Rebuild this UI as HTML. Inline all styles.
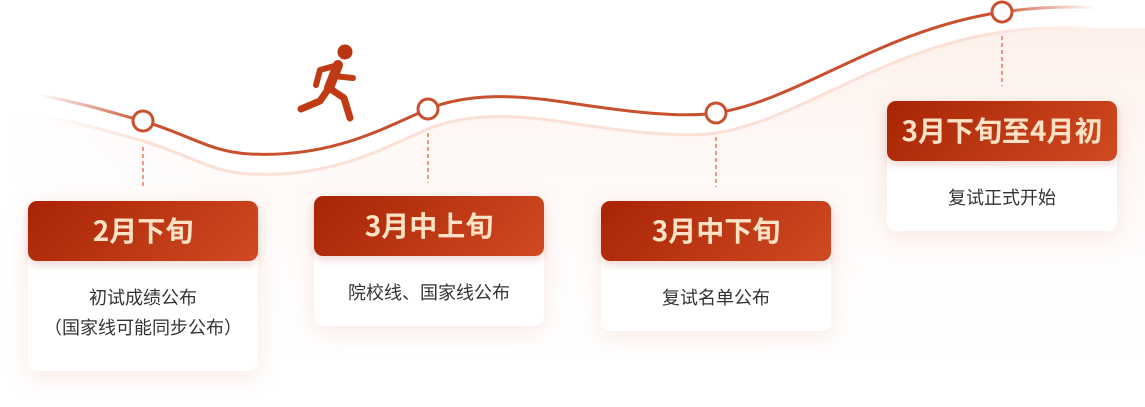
<!DOCTYPE html>
<html><head><meta charset="utf-8"><style>
body{margin:0;width:1145px;height:407px;background:#fff;position:relative;overflow:hidden;font-family:"Liberation Sans","Noto Sans CJK SC",sans-serif}
svg{position:absolute;left:0;top:0}
.card{position:absolute;width:230px;background:#fff;border-radius:9px;box-shadow:0 6px 24px rgba(220,120,90,0.16)}
.hd{height:60px;border-radius:9px;background:linear-gradient(135deg,#a82404,#d04a22);color:#fde2c6;font-weight:bold;font-size:28px;text-align:center;line-height:58px;box-shadow:0 4px 8px rgba(170,50,20,0.18);font-family:"Noto Sans CJK SC",sans-serif;white-space:nowrap}
.bd{text-align:center;color:#333;font-size:18px;line-height:30px;padding-top:21px;font-family:"Noto Sans CJK SC",sans-serif;white-space:nowrap}
</style></head><body>
<svg width="1145" height="407">
<defs>
<linearGradient id="fill" x1="0" y1="0" x2="0" y2="1"><stop offset="0" stop-color="#fdf0ea"/><stop offset="1" stop-color="#fff" stop-opacity="0"/></linearGradient>
<linearGradient id="fade" x1="0" x2="1"><stop offset="0" stop-color="#fff" stop-opacity="1"/><stop offset="0.25" stop-color="#fff" stop-opacity="0"/></linearGradient>
<linearGradient id="ln" x1="0" x2="1"><stop offset="0" stop-color="#c8502e" stop-opacity="0"/><stop offset="0.1" stop-color="#c8502e"/><stop offset="0.9" stop-color="#c8502e"/><stop offset="1" stop-color="#c8502e" stop-opacity="0"/></linearGradient>
<linearGradient id="ln2" x1="0" x2="1"><stop offset="0" stop-color="#fbe0d6" stop-opacity="0"/><stop offset="0.1" stop-color="#fbe0d6"/><stop offset="0.9" stop-color="#fbe0d6"/><stop offset="1" stop-color="#fbe0d6" stop-opacity="0"/></linearGradient>
</defs>
<path d="M40,115 C90,125 120,135 143,141 C190,155 210,172 250,174 C330,178 380,150 428,129 C470,112 520,115 570,123 C630,132 680,138 716,133 C800,120 880,50 1002,32 C1040,27 1070,26 1095,28 L1145,28 L1145,407 L0,407 L0,115 Z" fill="url(#fill)"/>
<rect x="0" y="0" width="1145" height="407" fill="url(#fade)"/>
<path d="M40,115 C90,125 120,135 143,141 C190,155 210,172 250,174 C330,178 380,150 428,129 C470,112 520,115 570,123 C630,132 680,138 716,133 C800,120 880,50 1002,32 C1040,27 1070,26 1095,28" fill="none" stroke="url(#ln2)" stroke-width="3"/>
<path d="M40,95 C90,105 120,115 143,121 C190,135 210,152 250,154 C330,158 380,130 428,109 C470,92 520,95 570,103 C630,112 680,118 716,113 C800,100 880,30 1002,12 C1040,7 1070,6 1095,8" fill="none" stroke="url(#ln)" stroke-width="3"/>
<g stroke="#ec9a80" stroke-width="2" stroke-dasharray="4,3">
<line x1="143" y1="147" x2="143" y2="187"/><line x1="428" y1="133" x2="428" y2="183"/><line x1="716" y1="137" x2="716" y2="187"/><line x1="1002" y1="36" x2="1002" y2="86"/></g>
<g fill="#fff" stroke="#c8502e" stroke-width="3">
<circle cx="143" cy="121" r="10"/><circle cx="428" cy="109" r="10"/><circle cx="716" cy="113" r="10"/><circle cx="1002" cy="12" r="10"/></g>
<circle cx="345" cy="52" r="7.5" fill="#b93410"/>
<g stroke="#c03a14" stroke-linecap="round" stroke-linejoin="round" fill="none">
<path d="M338,65 L320,70 L316,85" stroke-width="6"/>
<path d="M338,65 L329,88" stroke-width="10"/>
<path d="M333,76 L353,78" stroke-width="6"/>
<path d="M329,88 L320,101 L301,109" stroke-width="7"/>
<path d="M329,88 L344,98 L350,118" stroke-width="7"/>
</g>
</svg>
<div class="card" style="left:28px;top:201px;height:170px"><div class="hd">2月下旬</div><div class="bd">初试成绩公布<br>（国家线可能同步公布）</div></div>
<div class="card" style="left:314px;top:196px;height:130px"><div class="hd">3月中上旬</div><div class="bd">院校线、国家线公布</div></div>
<div class="card" style="left:601px;top:201px;height:130px"><div class="hd">3月中下旬</div><div class="bd">复试名单公布</div></div>
<div class="card" style="left:887px;top:101px;height:130px"><div class="hd">3月下旬至4月初</div><div class="bd">复试正式开始</div></div>
</body></html>
